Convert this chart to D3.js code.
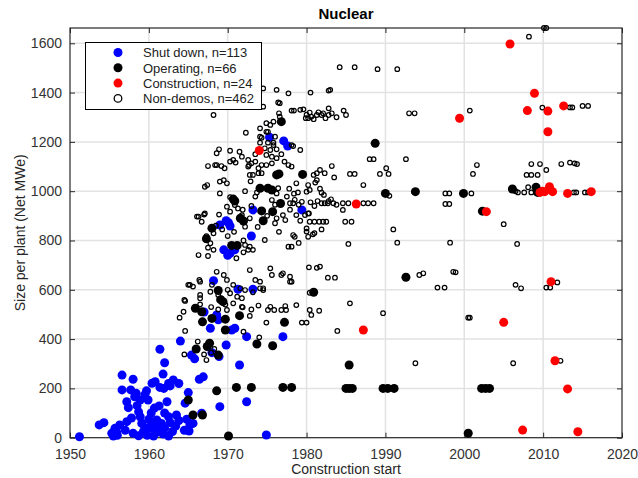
<!DOCTYPE html>
<html>
<head>
<meta charset="utf-8">
<script src="https://cdn.jsdelivr.net/npm/d3@7"></script>
<style>
  body { margin: 0; background: #fff; }
  text { font-family: "Liberation Sans", Arial, sans-serif; }
</style>
</head>
<body>
<svg id="chart" width="638" height="478"></svg>
<script>
// ---- data (construction start year, net MWe) ----
const shutDown = [
  [1975.3,1219],[1977.1,1204],[1977.6,1183],[1973.2,924],[1979.4,924],[1969.0,863],[1970.1,872],
  [1970.3,859],[1973.0,818],[1969.5,762],[1970.3,748],[1970.9,762],[1968.2,637],[1971.3,602],
  [1973.2,602],[1969.8,880],[1970.0,740],[1968.8,478],[1968.6,498],[1967.8,444],[1970.5,437],
  [1970.9,444],[1972.4,410],[1977.0,410],[1964.0,392],[1969.8,376],[1965.4,335],[1968.9,329],
  [1961.4,359],[1962.0,304],[1971.5,295],[1961.8,258],[1966.4,237],[1966.9,247],[1963.1,234],
  [1962.7,210],[1965.0,183],[1964.6,140],[1969.0,126],[1972.4,146],[1963.5,92],[1965.2,52],
  [1965.1,27],[1965.6,58],[1974.9,11],[1966.7,99],[1956.6,254],[1958.0,237],[1956.6,194],
  [1957.7,194],[1959.7,190],[1960.4,221],[1960.8,227],[1961.4,204],[1957.2,146],[1957.4,122],
  [1958.2,166],[1958.9,153],[1959.9,153],[1958.7,105],[1958.9,85],[1959.1,58],[1959.3,24],
  [1958.7,8],[1958.0,18],[1957.2,65],[1951.2,4],[1953.7,52],[1954.3,61],[1955.5,7],[1955.7,38],
  [1955.9,24],[1956.3,52],[1955.3,18],[1960.4,58],[1960.6,7],[1961.0,72],[1961.3,129],[1962.3,146],
  [1961.6,58],[1962.0,38],[1962.5,7],[1962.7,61],[1963.4,47],[1960.0,40],[1960.5,40],[1961.0,40],
  [1961.5,40],[1960.9,20],[1959.8,10],[1961.8,15],[1963.0,25],[1963.8,70],[1958.5,130],[1959.5,175],
  [1960.3,100],[1962.0,100],[1962.5,220],[1957.0,30],[1956.0,10],[1959.5,40],[1960.0,75],[1964.8,75],
  [1963.8,220],[1957.8,80],[1961.9,200],[1958.4,180],[1960.7,120],[1964.5,30],[1967.0,510],
  [1968.0,345],[1962.5,85],[1965.8,320]
];

const operating = [
  [1970.1,7],[1965.0,153],[1965.6,92],[1966.8,92],[1968.6,190],[1971.1,204],[1973.0,204],
  [1977.0,204],[1978.1,204],[1973.7,380],[1975.7,373],[1977.2,468],[1966.0,360],[1967.7,383],
  [1968.8,335],[1969.7,437],[1969.7,481],[1971.5,495],[1968.0,484],[1966.8,470],[1965.9,525],
  [1966.7,511],[1969.4,552],[1968.8,597],[1974.1,1012],[1975.1,1012],[1970.7,968],[1974.3,920],
  [1975.7,917],[1976.7,950],[1974.5,880],[1972.0,879],[1971.6,890],[1968.0,850],[1967.3,807],
  [1970.5,780],[1971.2,780],[1980.9,590],[1976.8,1282],[1976.2,1066],[1979.5,1068],[1988.7,1194],
  [1990.0,991],[1993.8,998],[1999.9,991],[2006.1,1009],[2009.1,1016],[2009.3,995],[2002.3,919],
  [1992.6,651],[1985.4,295],[1985.0,200],[1985.4,200],[1985.8,200],[1989.7,200],[1990.3,200],
  [1991.1,200],[2002.2,200],[2002.7,200],[2003.2,200],[2000.5,18],[1969.1,560],[1970.9,960],
  [1975.6,1005],[1976.5,1070],[1967.4,370]
];

const construction = [
  [1974.0,1165],[1986.3,948],[1987.2,437],[1999.4,1296],[2002.8,917],[2005.0,468],[2005.8,1597],
  [2007.4,31],[2008.0,1327],[2008.9,1397],[2010.6,1325],[2010.6,1241],[2012.6,1346],[2009.6,995],
  [2010.2,998],[2010.8,1018],[2011.2,998],[2013.1,991],[2016.1,998],[2011.0,633],[2011.5,312],
  [2013.1,198],[2014.4,24],[2009.9,1000]
];

const nonDemos = [
  // above 1200
  [1968.2,1309],[1972.3,1237],[1974.1,1255],[1974.5,1417],[1974.5,1343],[1976.2,1411],[1977.7,1397],
  [1980.5,1400],[1976.6,1357],[1976.5,1316],[1976.6,1302],[1978.1,1327],[1978.4,1327],[1979.2,1330],
  [1979.6,1332],[1979.9,1296],[1980.4,1319],[1980.6,1302],[1981.3,1309],[1981.9,1309],[1982.8,1309],
  [1982.8,1408],[1980.2,1296],[1980.9,1292],[1974.9,1276],[1975.4,1269],[1975.8,1282],[1974.1,1221],
  [1974.9,1241],[1975.1,1241],[1976.0,1221],[1975.8,1197],[1974.3,1217],[1974.1,1197],[1975.1,1197],
  [1975.8,1187],[1978.1,1187],[1978.3,1183],[1979.2,1167],[1984.2,1503],[1986.1,1503],[1989.0,1495],
  [1991.5,1495],[1983.0,1411],[1982.1,1316],[1982.4,1296],[1982.8,1336],[1983.2,1316],[1983.8,1300],
  [1984.7,1327],[1985.0,1309],[1993.0,1316],[1993.7,1316],[2000.7,1327],[2008.2,1627],[2010.1,1662],
  [2010.4,1662],[2009.9,1339],[2013.4,1340],[2013.7,1340],[2015.0,1346],[2015.7,1346],[1976.4,1360],
  [1981.5,1320],[1980.0,1310],
  // 1050 - 1200
  [1968.9,1170],[1970.3,1164],[1971.5,1160],[1968.6,1154],[1970.7,1127],[1972.6,1127],[1973.0,1113],
  [1972.6,1100],[1974.7,1174],[1975.4,1167],[1976.2,1170],[1974.9,1147],[1975.6,1140],[1976.2,1134],
  [1967.5,1102],[1968.4,1106],[1969.2,1102],[1969.6,1093],[1970.3,1120],[1971.0,1116],[1968.6,1106],
  [1972.7,1106],[1973.5,1120],[1973.9,1093],[1974.9,1106],[1975.6,1113],[1974.3,1106],[1977.7,1106],
  [1978.1,1100],[1980.9,1066],[1981.3,1073],[1981.7,1086],[1982.3,1073],[1983.2,1102],[1983.5,1056],
  [1985.5,1070],[1986.1,1070],[1988.0,1130],[1988.5,1130],[1990.1,1093],[1989.3,1070],[1990.4,1070],
  [1992.6,1130],[2001.6,1106],[2001.1,1070],[2008.5,1110],[2009.6,1110],[2010.4,1086],[2007.9,1066],
  [2008.5,1066],[2009.3,1066],[2012.3,1110],[2013.4,1116],[2014.0,1113],[2014.3,1110],[1977.2,1120],
  [1971.8,1140],[1973.5,1150],[1976.8,1150],
  // 950 - 1050
  [1972.8,1066],[1973.2,1066],[1973.9,1073],[1974.3,1073],[1967.1,1018],[1967.4,1025],[1969.0,1039],
  [1969.5,1045],[1969.9,1032],[1969.0,991],[1978.7,1032],[1980.2,1025],[1981.7,1010],[1976.4,1012],
  [1976.2,991],[1973.5,978],[1973.7,995],[1980.0,998],[1980.4,1005],[1981.3,1045],[1981.1,1035],
  [1987.2,1025],[1990.5,981],[1997.6,991],[1998.1,991],[2000.9,991],[1981.9,994],[1982.2,985],
  [1970.3,976],[2006.8,995],[2007.6,995],[2008.1,1016],[2008.5,995],[2009.1,995],[2013.9,995],
  [2014.2,995],[2015.3,995],[2015.7,995],[2006.5,1000],[2010.5,1005],[1972.2,1000],[1977.8,1010],
  [1978.9,995],[1972.9,1040],
  [1981.9,951],[1982.3,951],[1982.7,951],[1983.4,951],[1984.6,951],[1985.3,951],[1987.2,951],
  [1987.8,951],[1988.5,951],[1983.1,967],[1982.8,960],[1979.4,957],[1977.9,951],[1978.3,951],
  [1997.6,948],[1998.1,948],[1980.5,955],[1981.0,940],[1980.3,910],[1984.6,924],[1977.5,978],
  [1978.4,990],[1975.6,964],[1976.0,945],[1978.5,965],[1979.0,945],[1981.4,960],[1983.8,945],
  // 700 - 950
  [1966.3,897],[1967.1,910],[1966.7,876],[1966.1,897],[1967.0,905],[1970.9,944],[1969.9,937],
  [1970.3,917],[1971.3,930],[1971.8,903],[1972.8,890],[1972.2,856],[1977.0,903],[1977.3,883],
  [1976.2,890],[1978.7,903],[1979.8,903],[1980.2,910],[1980.0,836],[1981.0,830],[1978.3,822],
  [1978.1,775],[1974.7,802],[1977.7,775],[1967.3,818],[1968.2,829],[1967.8,789],[1967.5,771],
  [1968.2,762],[1967.5,737],[1972.2,782],[1972.8,775],[1972.6,762],[1973.2,762],[1972.0,752],
  [1971.1,728],[1966.3,741],[1968.5,860],[1969.3,845],[1975.0,900],[1976.0,870],[1978.5,815],
  [1980.0,849],[1980.2,815],[1980.8,825],[1980.4,876],[1981.0,876],[1981.6,876],[1982.1,876],
  [1982.5,876],[1981.9,845],[1984.9,876],[1985.7,876],[1985.3,786],[1991.0,845],[1991.5,791],
  [1998.2,791],[2005.0,866],[2006.7,786],[1970.0,818],[1970.8,835],[1973.8,855],[1976.5,835],
  [1971.9,925],[1973.0,940],[1977.9,925],[1979.2,880],[1968.9,905],[1972.0,800],[1979.0,790],
  // 570 - 700
  [1975.4,687],[1975.6,660],[1977.0,667],[1977.9,653],[1977.9,633],[1976.8,660],[1978.1,633],
  [1981.3,689],[1981.7,694],[1980.3,691],[1968.6,673],[1969.9,640],[1966.4,640],[1965.0,620],
  [1965.6,613],[1965.2,620],[1966.5,633],[1966.5,579],[1967.8,592],[1968.8,579],[1970.3,586],
  [1970.7,620],[1971.2,572],[1972.2,599],[1973.2,590],[1974.5,599],[1974.1,606],[1974.5,606],
  [1974.1,633],[1971.6,606],[1982.7,649],[1983.6,649],[1994.3,660],[1994.8,667],[1998.6,673],
  [1998.9,671],[1996.6,609],[1997.5,609],[2006.5,620],[2007.2,606],[2010.4,609],[2010.9,609],
  [2011.8,630],[1980.4,588],[1968.0,620],[1970.0,600],[1973.5,640],[1969.5,660],[1972.8,680],
  // 480 - 570
  [1964.5,559],[1964.6,555],[1966.5,566],[1971.8,566],[1969.2,565],[1964.4,511],[1975.1,518],
  [1975.9,518],[1976.8,518],[1977.4,518],[1978.7,538],[1980.4,518],[1981.6,515],[1971.8,531],
  [1973.9,536],[1975.4,531],[1977.3,534],[1969.9,518],[1968.8,520],[1969.7,540],[1971.9,529],
  [1972.8,494],[1980.6,498],[1985.5,545],[1989.7,505],[1966.5,541],[1967.9,530],[2000.5,487],
  [2000.7,487],[1970.7,545],[1973.0,520],
  // below 480
  [1963.9,487],[1964.6,433],[1964.5,338],[1967.0,338],[1967.3,315],[1967.9,345],[1972.0,430],
  [1974.0,407],[1974.9,467],[1979.4,467],[1980.0,467],[1983.9,433],[1993.8,302],[2006.2,302],
  [2012.2,312],[1968.3,360],[1966.2,390]
];

const xTicks = [1950, 1960, 1970, 1980, 1990, 2000, 2010, 2020];
const yTicks = [0, 200, 400, 600, 800, 1000, 1200, 1400, 1600];
const legendLabels = ["Shut down, n=113", "Operating, n=66", "Construction, n=24", "Non-demos, n=462"];
const legendColors = ["#0000ff", "#000000", "#ff0000", null];

// ---- layout ----
const svg = d3.select("#chart");
const pLeft = 70, pRight = 622, pTop = 28, pBottom = 437.7;

const x = d3.scaleLinear().domain([1950, 2020]).range([pLeft, pRight]);
const y = d3.scaleLinear().domain([0, 1662]).range([pBottom, pTop]);

// grid
const grid = svg.append("g");
grid.selectAll(".gx").data(xTicks.slice(1, -1)).enter().append("line")
  .attr("x1", d => x(d)).attr("x2", d => x(d))
  .attr("y1", pTop).attr("y2", pBottom)
  .attr("stroke", "#e2e2e2").attr("stroke-width", 1.5);
grid.selectAll(".gy").data(yTicks.slice(1)).enter().append("line")
  .attr("x1", pLeft).attr("x2", pRight)
  .attr("y1", d => y(d)).attr("y2", d => y(d))
  .attr("stroke", "#e2e2e2").attr("stroke-width", 1.5);

// axes (ticks pointing inward)
const axisColor = "#262626";
function styleAxis(g) {
  g.select(".domain").remove();
  g.selectAll(".tick line").attr("stroke", axisColor);
  g.selectAll(".tick text").attr("fill", "#333").style("font-size", "14px")
    .style("font-family", "'Liberation Sans', Arial, sans-serif");
}
svg.append("g").attr("transform", `translate(0,${pBottom})`)
  .call(d3.axisBottom(x).tickValues(xTicks).tickFormat(d3.format("d")).tickSize(-5).tickPadding(11))
  .call(styleAxis);
svg.append("g").attr("transform", `translate(0,${pTop})`)
  .call(d3.axisTop(x).tickValues(xTicks).tickFormat("").tickSize(-5))
  .call(styleAxis);
svg.append("g").attr("transform", `translate(${pLeft},0)`)
  .call(d3.axisLeft(y).tickValues(yTicks).tickFormat(d3.format("d")).tickSize(-5).tickPadding(8))
  .call(styleAxis);
svg.append("g").attr("transform", `translate(${pRight},0)`)
  .call(d3.axisRight(y).tickValues(yTicks).tickFormat("").tickSize(-5))
  .call(styleAxis);

// frame
svg.append("rect")
  .attr("x", pLeft).attr("y", pTop)
  .attr("width", pRight - pLeft).attr("height", pBottom - pTop)
  .attr("fill", "none").attr("stroke", axisColor).attr("stroke-width", 1.2);

// points
const pts = svg.append("g");
function filled(data, color) {
  pts.append("g").selectAll("circle").data(data).enter().append("circle")
    .attr("cx", d => x(d[0])).attr("cy", d => y(d[1])).attr("r", 4.5)
    .attr("fill", color);
}
filled(shutDown, "#0000ff");
filled(operating, "#000000");
pts.append("g").selectAll("circle").data(nonDemos).enter().append("circle")
  .attr("cx", d => x(d[0])).attr("cy", d => y(d[1])).attr("r", 2.3)
  .attr("fill", "none").attr("stroke", "#000").attr("stroke-width", 1.2);
filled(construction, "#ff0000");

// title and labels
svg.append("text").attr("x", (pLeft + pRight) / 2).attr("y", 19)
  .attr("text-anchor", "middle").attr("fill", "#000")
  .style("font-size", "15px").style("font-weight", "bold")
  .text("Nuclear");
svg.append("text").attr("x", (pLeft + pRight) / 2).attr("y", 474)
  .attr("text-anchor", "middle").attr("fill", "#262626").style("font-size", "14px")
  .text("Construction start");
svg.append("text")
  .attr("transform", `translate(25,${(pTop + pBottom) / 2}) rotate(-90)`)
  .attr("text-anchor", "middle").attr("fill", "#262626").style("font-size", "14px")
  .text("Size per plant (Net MWe)");

// legend
const lg = svg.append("g");
lg.append("rect").attr("x", 85.5).attr("y", 42.5).attr("width", 176).attr("height", 67)
  .attr("fill", "#fff").attr("stroke", "#000").attr("stroke-width", 1);
const rows = lg.selectAll("g.row").data(legendLabels).enter().append("g")
  .attr("transform", (d, i) => `translate(0,${52.5 + i * 15.3})`);
rows.append("circle").attr("cx", 118).attr("cy", 0)
  .attr("r", (d, i) => legendColors[i] ? 4.5 : 3.8)
  .attr("fill", (d, i) => legendColors[i] || "none")
  .attr("stroke", (d, i) => legendColors[i] ? "none" : "#000")
  .attr("stroke-width", 1.3);
rows.append("text").attr("x", 143).attr("y", 4.7)
  .attr("fill", "#222").style("font-size", "13px")
  .text(d => d);
</script>
</body>
</html>
